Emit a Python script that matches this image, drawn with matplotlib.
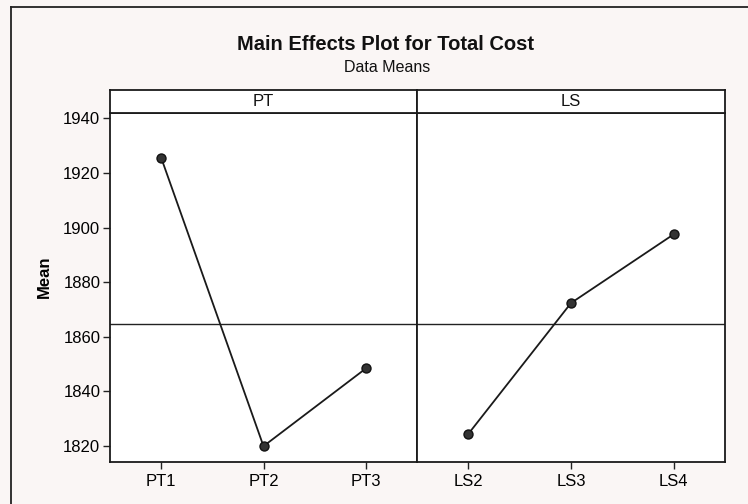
import matplotlib
matplotlib.use("Agg")
import matplotlib.pyplot as plt
from matplotlib.lines import Line2D
import numpy as np

# Level means of Total Cost for each factor
pt_levels = ["PT1", "PT2", "PT3"]
pt_means = [1925.6, 1819.8, 1848.3]
ls_levels = ["LS2", "LS3", "LS4"]
ls_means = [1824.3, 1872.3, 1897.5]
y_ticks = [1820, 1840, 1860, 1880, 1900, 1920, 1940]
grand_mean = np.mean(pt_means)

plt.rcParams["font.family"] = ["Liberation Sans", "DejaVu Sans"]

W, H = 748, 504
fig = plt.figure(figsize=(W / 100, H / 100), dpi=100)
fig.patch.set_facecolor("#faf6f5")

def fx(px):
    return px / W

def fy(py):
    return 1 - py / H

# frame around the graph
fig.add_artist(Line2D([fx(11), fx(11)], [fy(7), 0], color="#222222", lw=1.3))
fig.add_artist(Line2D([fx(11), 1], [fy(7), fy(7)], color="#222222", lw=1.3))

fig.text(fx(386), fy(45), "Main Effects Plot for Total Cost", ha="center", va="center",
         fontsize=14.5, fontweight="bold", color="#111111")
fig.text(fx(387), fy(67), "Data Means", ha="center", va="center",
         fontsize=11.5, color="#111111")

panels = [("PT", pt_levels, pt_means, 110, 417), ("LS", ls_levels, ls_means, 417, 725)]
top, bottom, strip_top = 113, 462, 90

for i, (name, levels, means, x0, x1) in enumerate(panels):
    ax = fig.add_axes([fx(x0), fy(bottom), fx(x1 - x0), (bottom - top) / H])
    ax.set_facecolor("white")
    xs = np.arange(1, len(levels) + 1)
    ax.axhline(grand_mean, color="#222222", lw=1.0, zorder=1)
    ax.plot(xs, means, color="#1a1a1a", lw=1.3, zorder=2)
    ax.scatter(xs, means, s=42, color="#333333", edgecolor="#111111", linewidth=1.0, zorder=3)
    ax.set_xlim(0.5, len(levels) + 0.5)
    ax.set_ylim(1814, 1942)
    ax.set_xticks(xs)
    ax.set_xticklabels(levels)
    ax.tick_params(axis="x", length=5, width=1.0, color="#222222", labelsize=12, pad=4)
    if i == 0:
        ax.set_yticks(y_ticks)
        ax.tick_params(axis="y", length=5, width=1.0, color="#222222", labelsize=12, pad=2)
        ax.set_ylabel("Mean", fontsize=12, fontweight="bold")
        ax.yaxis.set_label_coords(-0.19, 0.53)
    else:
        ax.set_yticks([])
    for sp in ax.spines.values():
        sp.set_color("#1a1a1a")
        sp.set_linewidth(1.3)

    strip = fig.add_axes([fx(x0), fy(top), fx(x1 - x0), (top - strip_top) / H])
    strip.set_facecolor("white")
    strip.set_xticks([])
    strip.set_yticks([])
    for sp in strip.spines.values():
        sp.set_color("#1a1a1a")
        sp.set_linewidth(1.3)
    strip.text(0.5, 0.5, name, ha="center", va="center", fontsize=12,
               transform=strip.transAxes, color="#111111")

fig.savefig("out.png", dpi=100, facecolor=fig.get_facecolor())
